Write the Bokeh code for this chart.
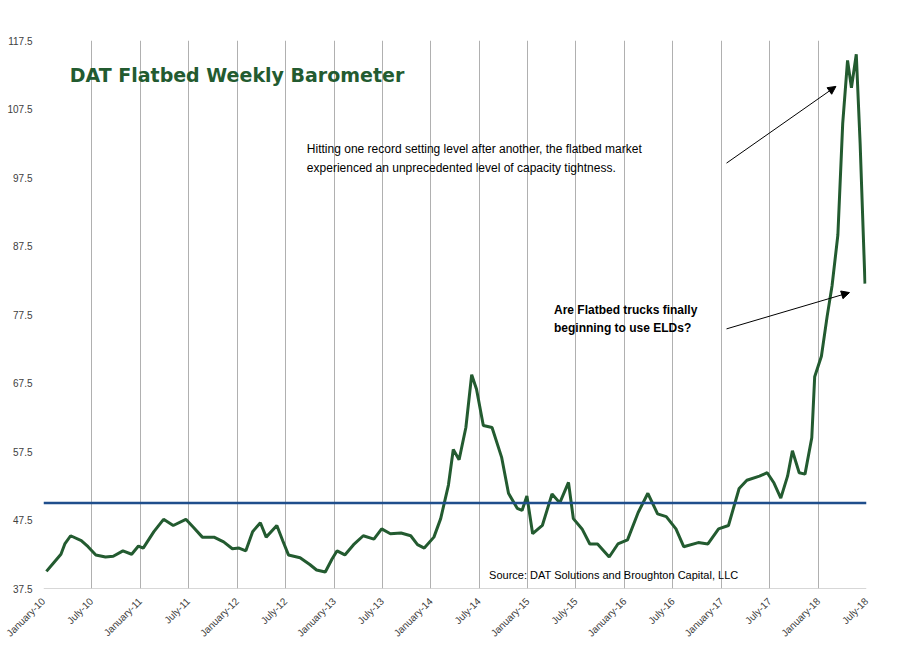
from datetime import datetime, timedelta
from bokeh.plotting import figure
from bokeh.models import FixedTicker, Span, Label, Arrow, NormalHead
from bokeh.embed import file_html
from bokeh.resources import INLINE

years = [2010.03,2010.09,2010.18,2010.22,2010.28,2010.39,2010.46,2010.54,2010.64,2010.72,2010.82,2010.91,2010.98,
 2011.03,2011.14,2011.24,2011.34,2011.47,2011.55,2011.64,2011.76,2011.86,2011.95,
 2012.02,2012.09,2012.16,2012.24,2012.30,2012.41,2012.47,2012.53,2012.65,2012.75,2012.82,2012.91,2012.98,
 2013.03,2013.11,2013.20,2013.30,2013.41,2013.49,2013.58,2013.69,2013.79,2013.86,2013.93,
 2014.03,2014.10,2014.18,2014.23,2014.29,2014.36,2014.42,2014.47,2014.54,2014.63,2014.73,2014.80,2014.89,2014.94,2014.99,
 2015.05,2015.15,2015.25,2015.33,2015.42,2015.47,2015.56,2015.64,2015.72,2015.84,2015.93,
 2016.03,2016.14,2016.24,2016.34,2016.43,2016.53,2016.61,2016.76,2016.86,2016.97,
 2017.07,2017.18,2017.26,2017.39,2017.47,2017.54,2017.61,2017.68,2017.73,2017.80,2017.86,2017.93,2017.96,
 2018.03,2018.09,2018.14,2018.20,2018.25,2018.30,2018.34,2018.39,2018.43,2018.48]
values = [40.0,41.0,42.5,44.0,45.2,44.5,43.6,42.4,42.1,42.2,43.0,42.5,43.7,
 43.4,45.8,47.6,46.7,47.6,46.4,45.0,45.0,44.3,43.3,
 43.4,43.0,45.8,47.1,45.0,46.7,44.5,42.4,42.0,41.0,40.2,39.9,41.8,
 43.0,42.4,43.9,45.2,44.7,46.2,45.5,45.6,45.2,43.9,43.4,
 45.0,47.7,52.6,57.8,56.3,61.0,68.7,66.6,61.3,61.0,56.6,51.4,49.2,48.9,51.0,
 45.5,46.7,51.3,50.0,53.0,47.7,46.2,44.0,44.0,42.1,44.0,
 44.6,48.6,51.4,48.4,48.0,46.2,43.6,44.2,44.0,46.2,
 46.7,52.1,53.3,53.9,54.4,52.9,50.7,53.9,57.6,54.4,54.2,59.5,68.4,
 71.4,77.3,81.7,89.1,105.4,114.6,110.6,115.5,102.4,82.0]
baseline = 50.0
tick_labels = []
tick_dates = []
for y in range(2010, 2019):
    for m, name in ((1, "January"), (7, "July")):
        if y == 2018 and m > 7:
            break
        tick_dates.append(datetime(y, m, 1))
        tick_labels.append(f"{name}-{str(y)[2:]}")

def yr(d):
    y = int(d)
    return datetime(y, 1, 1) + timedelta(days=(d - y) * 365.25)

def ms(dt):
    return (dt - datetime(1970, 1, 1)).total_seconds() * 1000

xs = [yr(d) for d in years]
tick_ms = [ms(d) for d in tick_dates]

p = figure(width=895, height=645, x_axis_type="datetime", output_backend="svg", toolbar_location=None,
           x_range=(tick_ms[0], tick_ms[-1]), y_range=(37.5, 117.5),
           min_border_left=43, min_border_right=29, min_border_top=40, min_border_bottom=56)
p.outline_line_color = None
p.border_fill_color = "white"
p.xaxis.ticker = FixedTicker(ticks=tick_ms)
p.xaxis.major_label_overrides = {t: l for t, l in zip(tick_ms, tick_labels)}
p.xaxis.major_label_orientation = 0.785
p.yaxis.ticker = FixedTicker(ticks=[37.5 + 10 * i for i in range(9)])
p.yaxis.major_label_overrides = {37.5 + 10 * i: f"{37.5 + 10 * i}" for i in range(9)}
f = "Liberation Sans"
for ax in (p.xaxis, p.yaxis):
    ax.axis_line_color = None
    ax.major_tick_line_color = None
    ax.minor_tick_line_color = None
    ax.major_label_text_font = f
    ax.major_label_text_font_size = "10px"
    ax.major_label_text_color = "#404040"
p.xgrid.ticker = FixedTicker(ticks=tick_ms)
p.xgrid.grid_line_color = "#b0b0b0"
p.ygrid.grid_line_color = None
p.add_layout(Span(location=37.5, dimension="width", line_color="#b0b0b0", line_width=1))

p.add_layout(Span(location=baseline, dimension="width", line_color="#1f4e8c", line_width=2.5))
p.line(xs, values, line_color="#235b30", line_width=3)

p.add_layout(Label(x=ms(yr(2010.27)), y=112.5, text="DAT Flatbed Weekly Barometer", text_font="DejaVu Sans",
                   text_font_style="bold", text_font_size="19px", text_color="#235b30",
                   text_baseline="middle"))
p.add_layout(Label(x=ms(yr(2012.72)), y=101.6, text="Hitting one record setting level after another, the flatbed market",
                   text_font=f, text_font_size="12px", text_color="black", text_baseline="middle"))
p.add_layout(Label(x=ms(yr(2012.72)), y=98.9, text="experienced an unprecedented level of capacity tightness.",
                   text_font=f, text_font_size="12px", text_color="black", text_baseline="middle"))
p.add_layout(Label(x=ms(yr(2015.27)), y=78.2, text="Are Flatbed trucks finally",
                   text_font=f, text_font_size="12px", text_font_style="bold", text_color="black", text_baseline="middle"))
p.add_layout(Label(x=ms(yr(2015.27)), y=75.5, text="beginning to use ELDs?",
                   text_font=f, text_font_size="12px", text_font_style="bold", text_color="black", text_baseline="middle"))
p.add_layout(Label(x=ms(yr(2014.60)), y=39.5, text="Source: DAT Solutions and Broughton Capital, LLC",
                   text_font=f, text_font_size="11px", text_color="black", text_baseline="middle"))
p.add_layout(Arrow(end=NormalHead(size=8, fill_color="black"), line_color="black", line_width=1,
                   x_start=ms(yr(2017.05)), y_start=99.6, x_end=ms(yr(2018.18)), y_end=110.8))
p.add_layout(Arrow(end=NormalHead(size=8, fill_color="black"), line_color="black", line_width=1,
                   x_start=ms(yr(2017.05)), y_start=75.4, x_end=ms(yr(2018.32)), y_end=80.7))

open("out.html", "w").write(file_html(p, INLINE))
